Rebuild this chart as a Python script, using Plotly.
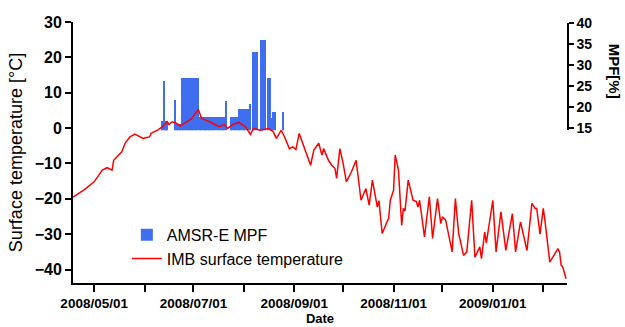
import plotly.graph_objects as go

# ---- IMB surface temperature (°C) ----
temp_dates = [
    "2008-04-18", "2008-04-25", "2008-05-01", "2008-05-06", "2008-05-09", "2008-05-12", "2008-05-13",
    "2008-05-18", "2008-05-20", "2008-05-23", "2008-05-26", "2008-05-31", "2008-06-04", "2008-06-05",
    "2008-06-09", "2008-06-12", "2008-06-15", "2008-06-16", "2008-06-18", "2008-06-20", "2008-06-23",
    "2008-06-30", "2008-07-04", "2008-07-06", "2008-07-11", "2008-07-17", "2008-07-20", "2008-07-22",
    "2008-07-25", "2008-07-29", "2008-08-02", "2008-08-05", "2008-08-07", "2008-08-11", "2008-08-16",
    "2008-08-19", "2008-08-21", "2008-08-24", "2008-08-26", "2008-08-29", "2008-08-31", "2008-09-02",
    "2008-09-04", "2008-09-07", "2008-09-11", "2008-09-13", "2008-09-16", "2008-09-18", "2008-09-19",
    "2008-09-22", "2008-09-24", "2008-09-26", "2008-09-27", "2008-09-29", "2008-10-01", "2008-10-03",
    "2008-10-06", "2008-10-09", "2008-10-12", "2008-10-15", "2008-10-17", "2008-10-19", "2008-10-22",
    "2008-10-23", "2008-10-25", "2008-10-28", "2008-10-29", "2008-10-30", "2008-11-01", "2008-11-02",
    "2008-11-04", "2008-11-06", "2008-11-07", "2008-11-08", "2008-11-10", "2008-11-13", "2008-11-15",
    "2008-11-16", "2008-11-17", "2008-11-20", "2008-11-23", "2008-11-25", "2008-11-28", "2008-11-30",
    "2008-12-01", "2008-12-03", "2008-12-07", "2008-12-09", "2008-12-11", "2008-12-14", "2008-12-16",
    "2008-12-19", "2008-12-21", "2008-12-24", "2008-12-25", "2008-12-27", "2008-12-28", "2009-01-01",
    "2009-01-03", "2009-01-06", "2009-01-09", "2009-01-13", "2009-01-15", "2009-01-18", "2009-01-22",
    "2009-01-25", "2009-01-27", "2009-01-28", "2009-01-30", "2009-02-01", "2009-02-02", "2009-02-05",
    "2009-02-07", "2009-02-10", "2009-02-11", "2009-02-12", "2009-02-13", "2009-02-15",
]
temp_values = [
    -19.5, -17.4, -15.2, -11.9, -11.2, -11.9, -9.1,
    -6.7, -4.3, -2.5, -1.7, -2.9, -2.5, -1.5,
    -0.6, 0.4, 1.8, 1.0, 1.8, 1.5, 0.6,
    2.7, 5.3, 2.7, 1.8, 0.4, 1.0, -0.1,
    1.0, 1.6, 0.4, -1.8, -0.1, -0.6, -0.1,
    -1.0, -2.9, -0.6, -2.5, -5.8, -5.3, -6.0,
    -1.5, -5.3, -10.5, -6.2, -4.3, -7.6, -5.8,
    -9.1, -10.5, -11.4, -14.2, -5.8, -10.0, -15.2,
    -12.5, -9.1, -20.4, -17.1, -21.8, -14.7, -22.3,
    -20.5, -29.8, -26.5, -25.5, -20.4, -17.6, -7.6,
    -11.9, -27.5, -22.7, -23.5, -14.7, -20.4, -20.8,
    -22.3, -20.4, -30.8, -19.4, -31.2, -19.9, -27.0,
    -25.1, -26.0, -35.0, -19.9, -29.8, -36.0, -35.0,
    -20.4, -36.5, -33.6, -36.9, -29.4, -32.5, -20.4,
    -35.0, -23.7, -34.6, -24.2, -35.0, -26.5, -34.6,
    -21.3, -22.7, -22.7, -30.0, -22.7, -26.0, -37.9,
    -36.5, -34.1, -35.0, -38.8, -39.3, -42.6,
]

# ---- AMSR-E melt pond fraction (%) ----
mpf_dates = [
    "2008-06-12", "2008-06-13", "2008-06-14", "2008-06-15",
    "2008-06-20", "2008-06-21", "2008-06-22", "2008-06-23",
    "2008-06-24", "2008-06-25", "2008-06-26", "2008-06-27", "2008-06-28", "2008-06-29",
    "2008-06-30", "2008-07-01", "2008-07-02", "2008-07-03", "2008-07-04",
    "2008-07-05", "2008-07-06", "2008-07-07", "2008-07-08", "2008-07-09", "2008-07-10",
    "2008-07-11", "2008-07-12", "2008-07-13", "2008-07-14", "2008-07-15", "2008-07-16",
    "2008-07-17", "2008-07-18", "2008-07-19", "2008-07-20",
    "2008-07-21",
    "2008-07-24", "2008-07-25", "2008-07-26", "2008-07-27", "2008-07-28",
    "2008-07-29", "2008-07-30", "2008-07-31", "2008-08-01", "2008-08-02", "2008-08-03", "2008-08-04",
    "2008-08-05",
    "2008-08-07", "2008-08-08", "2008-08-09",
    "2008-08-12", "2008-08-13", "2008-08-14",
    "2008-08-16", "2008-08-17", "2008-08-18", "2008-08-19", "2008-08-20",
    "2008-08-25",
]
mpf_values = [
    16.6, 26.1, 16.6, 16.6,
    21.7, 16.0, 16.0, 16.0,
    27.0, 27.0, 27.0, 27.0, 27.0, 27.0,
    27.0, 27.0, 27.0, 27.0, 27.0,
    17.6, 17.6, 17.6, 17.6, 17.6, 17.6,
    17.6, 17.6, 17.6, 17.6, 17.6, 17.6,
    17.6, 17.6, 17.6, 17.6,
    21.5,
    17.5, 17.5, 17.5, 17.5, 17.5,
    19.6, 19.6, 19.6, 19.6, 19.6, 19.6, 19.6,
    20.7,
    33.0, 33.0, 33.0,
    36.0, 36.0, 36.0,
    26.9, 26.9, 17.4, 18.8, 18.8,
    18.8,
]

# ---- axis ticks ----
month_ticks = ["2008-05-01", "2008-06-01", "2008-07-01", "2008-08-01", "2008-09-01",
               "2008-10-01", "2008-11-01", "2008-12-01", "2009-01-01", "2009-02-01"]
month_labels = ["2008/05/01", "", "2008/07/01", "", "2008/09/01",
                "", "2008/11/01", "", "2009/01/01", ""]
temp_ticks = [-40, -30, -20, -10, 0, 10, 20, 30]
mpf_ticks = [15, 20, 25, 30, 35, 40]

FONT = "Liberation Sans, Arial, sans-serif"

fig = go.Figure()
fig.add_trace(go.Bar(
    x=mpf_dates, y=mpf_values, name="AMSR-E MPF",
    marker=dict(color="#3f6ef0", line=dict(width=0)),
    xaxis="x", yaxis="y",
))
fig.add_trace(go.Scatter(
    x=temp_dates, y=temp_values, name="IMB surface temperature",
    mode="lines", line=dict(color="#ff0000", width=1.5),
    xaxis="x", yaxis="y2",
))

fig.update_layout(
    width=625, height=327,
    margin=dict(l=73, r=58, t=22, b=44, autoexpand=False),
    paper_bgcolor="white", plot_bgcolor="rgba(0,0,0,0)",
    font=dict(family=FONT, color="black"),
    bargap=0,
    showlegend=True,
    legend=dict(
        x=0.109, y=0.25, xanchor="left", yanchor="top",
        bgcolor="rgba(0,0,0,0)", font=dict(size=16, family=FONT),
        tracegroupgap=0,
    ),
    xaxis=dict(
        type="date", anchor="y2", automargin=False,
        range=["2008-04-18", "2009-02-15 14:00"],
        tickmode="array", tickvals=month_ticks, ticktext=month_labels,
        ticks="outside", ticklen=7, tickwidth=2, tickcolor="black",
        showline=True, linewidth=2, linecolor="black",
        showgrid=False, zeroline=False,
        tickfont=dict(size=13.5, family=FONT, weight="bold"),
        title=dict(text="Date", font=dict(size=13, family=FONT, weight="bold"), standoff=3),
    ),
    yaxis2=dict(
        domain=[0, 1], anchor="x", side="left", automargin=False,
        range=[-43.8, 30],
        tickmode="array", tickvals=temp_ticks,
        ticks="outside", ticklen=6, tickwidth=2, tickcolor="black",
        showline=True, linewidth=2, linecolor="black",
        showgrid=False, zeroline=False,
        tickfont=dict(size=16, family=FONT, weight="bold"),
        title=dict(text="Surface temperature [°C]", font=dict(size=18, family=FONT), standoff=7),
    ),
    yaxis=dict(
        domain=[0.585, 0.995], anchor="x", side="right", automargin=False,
        range=[14.5, 40],
        tickmode="array", tickvals=mpf_ticks,
        ticks="outside", ticklen=5, tickwidth=1.5, tickcolor="black",
        showline=True, linewidth=1.5, linecolor="black",
        showgrid=False, zeroline=False,
        tickfont=dict(size=14, family=FONT, weight="bold"),
    ),
    annotations=[dict(
        text="MPF[%]", textangle=90, xref="paper", yref="paper",
        x=1.095, y=0.81, xanchor="center", yanchor="middle", showarrow=False,
        font=dict(size=15, family=FONT, weight="bold"),
    )],
)

fig.write_html(
    "out.html",
    config={"displayModeBar": False},
    post_script="document.body.style.margin='0px';document.body.style.overflow='hidden';",
)
